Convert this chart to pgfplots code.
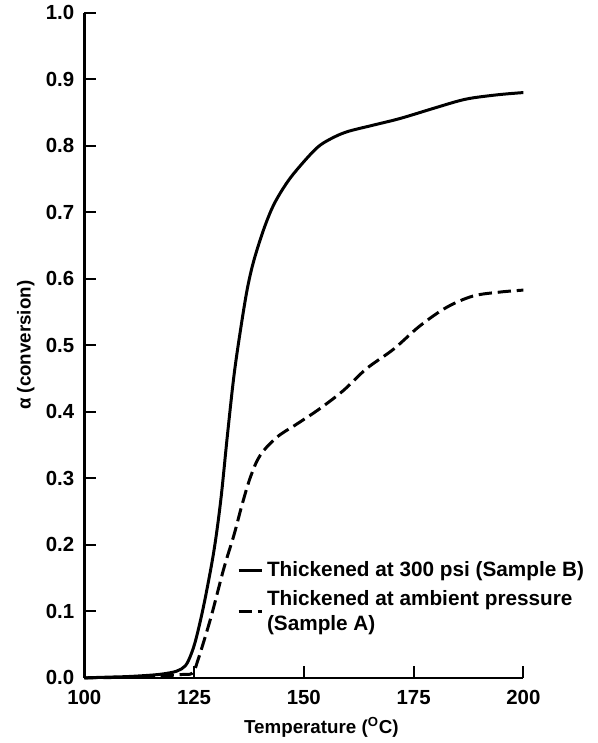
\documentclass[border=0pt]{standalone}
\usepackage{fontspec}
\setmainfont{Liberation Sans}
\usepackage{pgfplots}
\pgfplotsset{compat=1.18}
\begin{document}
\begin{tikzpicture}
\begin{axis}[
  scale only axis,
  width=264.6pt, height=400.8pt,
  xmin=100, xmax=200, ymin=0, ymax=1.0,
  axis x line*=bottom, axis y line*=left,
  axis line style={line width=1.5pt,-},
  xtick={100,125,150,175,200},
  ytick={0,0.1,0.2,0.3,0.4,0.5,0.6,0.7,0.8,0.9,1.0},
  yticklabel style={xshift=-2.5pt,/pgf/number format/.cd,fixed,fixed zerofill,precision=1},
  /pgf/number format/assume math mode=true,
  tick align=inside, major tick length=7pt,
  tick style={line width=1.2pt,black},
  ticklabel style={font=\bfseries\fontsize{12.3}{14}\selectfont},
  xticklabel style={yshift=-4pt},
  xlabel={\bfseries Temperature (\textsuperscript{O}C)},
  ylabel={\bfseries α (conversion)},
  label style={font=\bfseries\fontsize{11.3}{13}\selectfont},
  xlabel style={at={(axis description cs:0.54,0)}, anchor=center, yshift=-30pt},
  ylabel style={at={(axis description cs:-0.133,0.5)}, anchor=center},
  legend style={at={(0.336,0.185)}, anchor=north west, draw=none, fill=none,
    font=\bfseries\fontsize{12.5}{14.5}\selectfont, nodes={align=left}, row sep=3pt},
  legend cell align=left,
  legend image code/.code={\draw[#1] (0cm,0cm) -- (0.5cm,0cm);},
  clip=false,
]
\addplot[black, line width=1.8pt, smooth, tension=0.55] coordinates {
(100,0.000) (105,0.001) (110,0.002) (115,0.004) (118,0.006) (121,0.010)
(123,0.018) (124.3,0.035) (125.5,0.06) (127.3,0.112) (129.5,0.19)
(131.1,0.268) (132.6,0.365) (134.1,0.455) (135.6,0.524) (137.1,0.584)
(138.6,0.627) (140.9,0.675) (143.2,0.712) (146.2,0.745) (149.2,0.770)
(153.0,0.797) (156,0.810) (159.8,0.821) (165.8,0.831) (171.9,0.841)
(179.4,0.856) (185,0.867) (188.5,0.872) (194.6,0.877) (200,0.880)
};
\addlegendentry{Thickened at 300 psi (Sample B)}
\addplot[black, line width=1.8pt, dash pattern=on 8pt off 3.5pt, smooth, tension=0.55] coordinates {
(100,0.000) (110,0.001) (118,0.003) (122,0.005) (124.6,0.007) (125.8,0.025)
(128.8,0.09) (131.8,0.165) (134.1,0.215) (136.0,0.262) (137.9,0.303)
(140.1,0.335) (143.9,0.362) (148.5,0.382) (153.7,0.405) (159.0,0.432)
(164.3,0.465) (170.4,0.494) (176.4,0.529) (182.5,0.557) (188.5,0.574)
(194.6,0.580) (200,0.583)
};
\addlegendentry{Thickened at ambient pressure\\(Sample A)}
\end{axis}
\path (current bounding box.south west) ++(-7pt,0);
\path (current bounding box.south east) ++(3pt,0);
\end{tikzpicture}
\end{document}
